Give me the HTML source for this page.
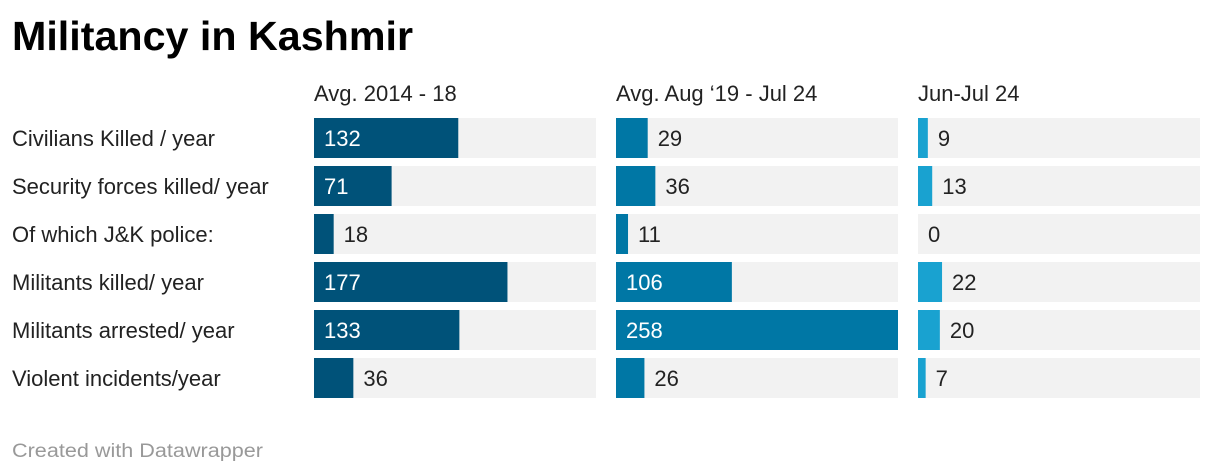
<!DOCTYPE html>
<html><head><meta charset="utf-8"><style>
html,body{margin:0;padding:0;background:#fff;}
svg{display:block;font-family:"Liberation Sans",Arial,sans-serif;}
</style></head><body>
<svg id="chart" width="1220" height="474" viewBox="0 0 1220 474">
<text x="12" y="50" font-size="41" font-weight="bold" fill="#000" textLength="401" lengthAdjust="spacingAndGlyphs">Militancy in Kashmir</text>
<g id="rows"></g>
<text x="12" y="457" font-size="19" fill="#999" textLength="251" lengthAdjust="spacingAndGlyphs">Created with Datawrapper</text>
</svg>
<script>
const categories = ["Civilians Killed / year","Security forces killed/ year","Of which J&K police:","Militants killed/ year","Militants arrested/ year","Violent incidents/year"];
const seriesNames = ["Avg. 2014 - 18","Avg. Aug \u201819 - Jul 24","Jun-Jul 24"];
const avg2014_18 = [132,71,18,177,133,36];
const avgAug19_Jul24 = [29,36,11,106,258,26];
const junJul24 = [9,13,0,22,20,7];
const series = [avg2014_18, avgAug19_Jul24, junJul24];
const colors = ["#005279","#0077a5","#19a2d0"];
const NS = "http://www.w3.org/2000/svg";
const g = document.getElementById("rows");
const colX = [314,616,918], colW = 282, rowTop = 118, rowStep = 48, barH = 40;
const maxV = 258;
function xs(v){ return v / maxV * colW; }
function yRow(i){ return rowTop + i * rowStep; }
function mk(tag, attrs, txt){
  const e = document.createElementNS(NS, tag);
  for (const k in attrs) e.setAttribute(k, attrs[k]);
  if (txt !== undefined) e.textContent = txt;
  g.appendChild(e); return e;
}
const labelW = [220,282,237,215,248,232];
categories.forEach((c,i)=>{
  const t = mk("text",{x:12,y:yRow(i)+28,"font-size":22,fill:"#222"},c);
  
  
});
const headW = [150,216,112];
seriesNames.forEach((s,j)=>{
  const t = mk("text",{x:colX[j],y:101,"font-size":22,fill:"#222"},s);
  
  
  series[j].forEach((v,i)=>{
    const bg = mk("rect",{x:colX[j],y:yRow(i),width:colW,height:barH,fill:"#f2f2f2"});
    
    
    const w = xs(v);
    const b = mk("rect",{x:colX[j],y:yRow(i),width:w,height:barH,fill:colors[j]});
    
    
    const inside = w > 60;
    const lt = mk("text",{x: inside ? colX[j]+10 : colX[j]+w+10, y:yRow(i)+28,"font-size":22,fill: inside ? "#fff" : "#222"}, String(v));
    
    
  });
});
</script>
</body></html>
